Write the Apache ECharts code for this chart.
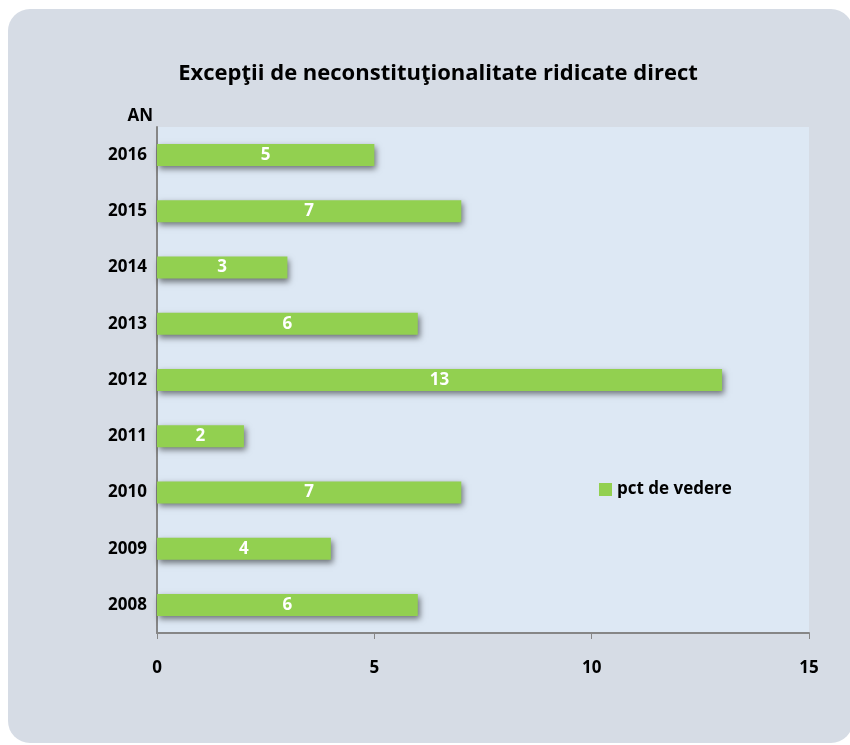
<!DOCTYPE html>
<html>
<head>
<meta charset="utf-8">
<script src="https://cdn.jsdelivr.net/npm/echarts@6/dist/echarts.min.js"></script>
<style>
    html, body { margin: 0; padding: 0; background: #fff; }
    #main { width: 850px; height: 745px; }
</style>
</head>
<body>
<div id="main"></div>
<script>
    var years = ['2008', '2009', '2010', '2011', '2012', '2013', '2014', '2015', '2016'];
    var values = [6, 4, 7, 2, 13, 6, 3, 7, 5];
    var seriesName = 'pct de vedere';
    var titleText = 'Excepţii de neconstituţionalitate ridicate direct';

    var fontFam = '"Open Sans", "Noto Sans", sans-serif';
    var myChart = echarts.init(document.getElementById('main'));

    var option = {
        backgroundColor: '#ffffff',
        animation: false,
        graphic: [
            {
                type: 'rect',
                z: -10,
                shape: { x: 8, y: 9, width: 845, height: 734, r: 22 },
                style: { fill: '#d6dce5' }
            }
        ],
        title: {
            text: titleText,
            left: 433,
            textAlign: 'center',
            top: 58,
            textStyle: { fontFamily: fontFam, fontSize: 22, fontWeight: 'bold', color: '#000' }
        },
        legend: {
            data: [seriesName],
            icon: 'rect',
            left: 594,
            top: 476,
            itemWidth: 13,
            itemHeight: 13,
            itemGap: 5,
            textStyle: { fontFamily: fontFam, fontSize: 17, fontWeight: 'bold', color: '#000' }
        },
        grid: {
            left: 157,
            right: 41,
            top: 127,
            bottom: 112,
            show: true,
            backgroundColor: '#dde8f4',
            borderWidth: 0
        },
        xAxis: {
            type: 'value',
            min: 0,
            max: 15,
            interval: 5,
            axisLine: { show: true, lineStyle: { color: '#868686', width: 2 } },
            axisTick: { show: true, length: 6, lineStyle: { color: '#868686' } },
            splitLine: { show: false },
            axisLabel: { margin: 27, fontFamily: fontFam, fontSize: 17, fontWeight: 'bold', color: '#000' }
        },
        yAxis: {
            type: 'category',
            data: years,
            name: 'AN',
            nameLocation: 'end',
            nameGap: 2,
            nameTextStyle: { fontFamily: fontFam, fontSize: 17, fontWeight: 'bold', color: '#000', align: 'right', padding: [0, 4, 0, 0] },
            axisLine: { show: true, lineStyle: { color: '#868686', width: 2 } },
            axisTick: { show: false },
            axisLabel: { margin: 10, fontFamily: fontFam, fontSize: 17, fontWeight: 'bold', color: '#000' }
        },
        series: [
            {
                name: seriesName,
                type: 'bar',
                data: values,
                barWidth: 22,
                itemStyle: {
                    color: '#92d050',
                    shadowColor: 'rgba(0,0,0,0.5)',
                    shadowBlur: 6,
                    shadowOffsetX: 2,
                    shadowOffsetY: 3
                },
                label: {
                    show: true,
                    position: 'inside',
                    fontFamily: fontFam,
                    fontSize: 17,
                    fontWeight: 'bold',
                    color: '#fff'
                }
            }
        ]
    };

    option && myChart.setOption(option);
</script>
</body>
</html>
